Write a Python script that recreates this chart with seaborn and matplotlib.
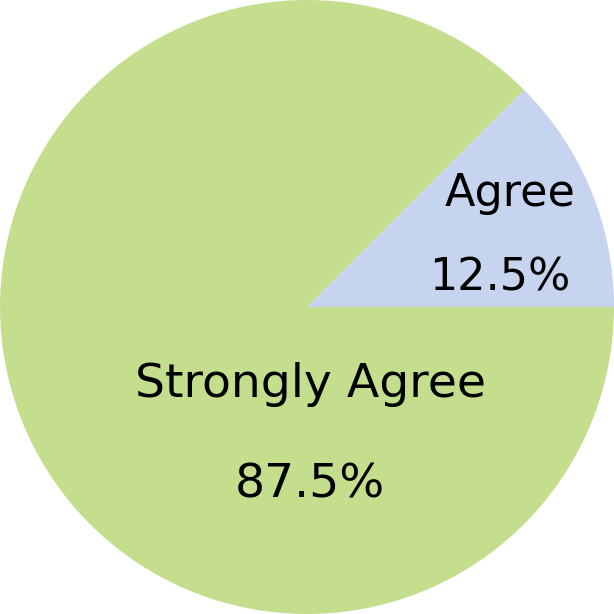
import matplotlib
matplotlib.use("Agg")
import matplotlib.pyplot as plt
import seaborn as sns

sns.set_style("white")
plt.rcParams['font.family'] = ['DejaVu Sans']

categories = ["Agree", "Strongly Agree"]
values = [12.5, 87.5]
colors = ["#C6D4F0", "#C4DE8E"]

fig = plt.figure(figsize=(6.14, 6.14), dpi=100)
ax = fig.add_axes([0, 0, 1, 1])
wedges, _ = ax.pie(values, colors=colors, startangle=0, counterclock=True,
                   radius=1.0, wedgeprops=dict(linewidth=0))
ax.set_xlim(-1, 1)
ax.set_ylim(-1, 1)
ax.set_aspect("equal")
ax.axis("off")

label_pos = {
    "Agree": [(0.661, 0.371), (0.629, 0.094)],
    "Strongly Agree": [(0.010, -0.254), (0.010, -0.580)],
}
sizes = {"Agree": 32, "Strongly Agree": 34}
for cat, val in zip(categories, values):
    (x1, y1), (x2, y2) = label_pos[cat]
    fs = sizes[cat]
    ax.text(x1, y1, cat, ha="center", va="center", fontsize=fs, color="black")
    ax.text(x2, y2, f"{val}%", ha="center", va="center", fontsize=fs, color="black")

fig.savefig("out.png", dpi=100, facecolor="white")
